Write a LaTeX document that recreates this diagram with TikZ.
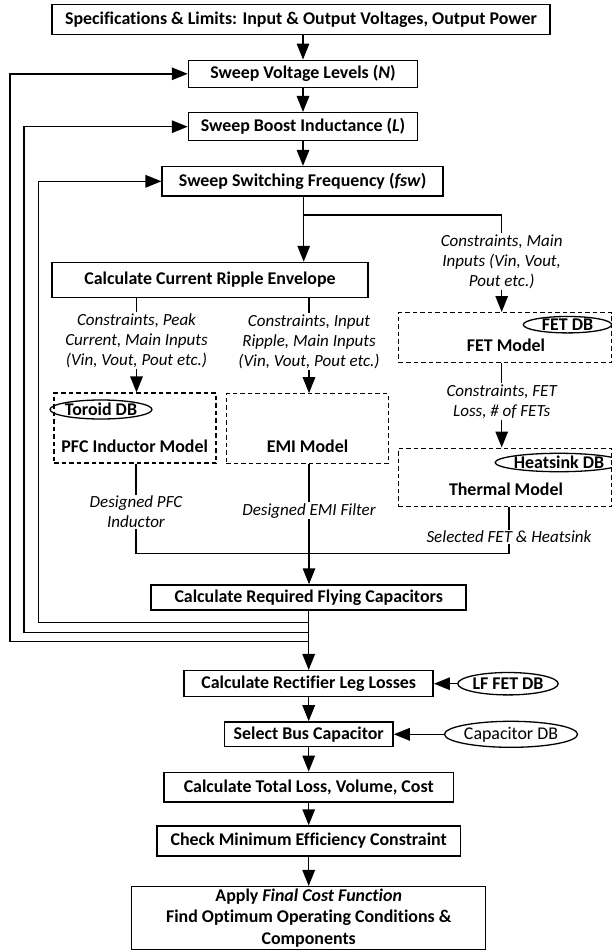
\documentclass[tikz,border=0pt]{standalone}
\usepackage{fontspec}
\setmainfont{Carlito}[Ligatures=NoCommon]
\usetikzlibrary{arrows.meta, shapes.geometric, positioning}
\tikzset{
  wh/.style 2 args={minimum width=#1pt, minimum height=#2pt},
  box/.style={draw, line width=1.5pt, inner sep=0pt, align=center,
    font=\fontsize{17.9}{21.3}\selectfont\bfseries},
  mbox/.style={draw, line width=1.2pt, dash pattern=on 4.5pt off 3pt, inner sep=0pt},
  db/.style={draw, ellipse, line width=1.3pt, inner sep=0pt,
    font=\fontsize{17.9}{21}\selectfont\bfseries},
  mname/.style={inner sep=0pt, font=\fontsize{17.9}{21}\selectfont\bfseries},
  lbl/.style={inner sep=1pt, align=center, font=\fontsize{17}{20}\selectfont\itshape},
  ln/.style={line width=1.5pt},
  arr/.style={line width=1.5pt, -{Triangle[length=16pt,width=12.5pt]}}}

\begin{document}
\begin{tikzpicture}[x=1pt, y=-1pt]
\useasboundingbox (0,0) rectangle (612,952);
% sweep loops
\node[box, wh={498}{30}] (spec) at (301,19.7) {Specifications \& Limits: Input \& Output Voltages, Output Power};
\node[box, wh={229}{27}] (volt) at (303,73.8) {Sweep Voltage Levels (\textit{N})};
\node[box, wh={229}{28}] (ind) at (303,126.7) {Sweep Boost Inductance (\textit{L})};
\node[box, wh={281}{29.3}] (fsw) at (302.7,181.3) {Sweep Switching Frequency (\textit{fsw})};
\node[box, wh={316}{35}] (ripple) at (210,280) {Calculate Current Ripple Envelope};

% component models
\node[mbox, wh={162}{70}] (pfc) at (135,428) {};
\node[mbox, wh={162}{69.5}] (emi) at (307.3,428.5) {};
\node[mbox, wh={213}{50}] (fet) at (505,337.6) {};
\node[mbox, wh={213}{58.6}] (therm) at (505,477.4) {};
\node[db, wh={88.6}{19}] (toroid) at (101,409.5) {Toroid DB};
\node[db, wh={88.4}{16}] (fetdb) at (567.5,324.7) {FET DB};
\node[db, wh={105}{18.4}] (heatdb) at (559,462.5) {Heatsink DB};
\node[mname] (pfcname) at (134.7,446) {PFC Inductor Model};
\node[mname] (eminame) at (307.5,446) {EMI Model};
\node[mname] (fetname) at (506,345) {FET Model};
\node[mname] (thermname) at (506,489) {Thermal Model};

% labels
\node[lbl] (lblA) at (501.7,261.5) {Constraints, Main\\Inputs (Vin, Vout,\\Pout etc.)};
\node[lbl] (lblpeak) at (136.5,340.5) {Constraints, Peak\\Current, Main Inputs\\(Vin, Vout, Pout etc.)};
\node[lbl] (lblinput) at (309,341.5) {Constraints, Input\\Ripple, Main Inputs\\(Vin, Vout, Pout etc.)};
\node[lbl] (lblloss) at (501.7,401.5) {Constraints, FET\\Loss, \# of FETs};
\node[lbl] (lblpfc) at (136,511.7) {Designed PFC\\Inductor};
\node[lbl] (lblemi) at (309,510.7) {Designed EMI Filter};
\node[lbl] (lblsel) at (509,536.7) {Selected FET \& Heatsink};

% final stages
\node[box, wh={315}{25}] (flying) at (308.7,597.5) {Calculate Required Flying Capacitors};
\node[box, wh={249}{26}] (rect) at (308.7,683.7) {Calculate Rectifier Leg Losses};
\node[db, wh={88.6}{22.4}] (lffet) at (508,683.7) {LF FET DB};
\node[box, wh={168.6}{24.7}] (bus) at (308.7,734.3) {Select Bus Capacitor};
\node[db, wh={116}{26}, font=\fontsize{17.9}{21}\selectfont] (capdb) at (511,734.3) {Capacitor DB};
\node[box, wh={289.5}{29.7}] (total) at (308.7,787.2) {Calculate Total Loss, Volume, Cost};
\node[box, wh={303.8}{30}] (check) at (308.7,841) {Check Minimum Efficiency Constraint};
\node[box, wh={354}{62.6}] (final) at (308.7,918) {Apply \textit{Final Cost Function}\\Find Optimum Operating Conditions \&\\Components};

\coordinate (split) at (303.7,215);
\coordinate (merge) at (309,553.3);
\coordinate (fbA) at (10,641.7);
\coordinate (fbB) at (24.2,632.3);
\coordinate (fbC) at (38.6,622.7);

% connectors
\draw[arr] (spec.south -| volt) -- (volt.north);
\draw[arr] (volt.south) -- (ind.north);
\draw[arr] (ind.south) -- (ind.south |- fsw.north);
\draw[ln] (fsw.south -| split) -- (split) -| (lblA.north);
\draw[arr] (split) -- (ripple.north -| split);
\draw[arr] (lblA.south) -- (fet.north -| lblA);
\draw[ln] (ripple.south -| lblpeak) -- (lblpeak.north);
\draw[arr] (lblpeak.south) -- (pfc.north -| lblpeak);
\draw[ln] (ripple.south -| lblinput) -- (lblinput.north);
\draw[arr] (lblinput.south) -- (emi.north -| lblinput);
\draw[ln] (fet.south -| lblloss) -- (lblloss.north);
\draw[arr] (lblloss.south) -- (therm.north -| lblloss);
\draw[ln] (pfc.south -| lblpfc) -- (lblpfc.north);
\draw[ln] (lblpfc.south) |- (merge -| lblsel) -- (lblsel.south);
\draw[ln] (therm.south -| lblsel) -- (lblsel.north);
\draw[ln] (emi.south -| lblemi) -- (lblemi.north);
\draw[arr] (lblemi.south) -- (flying.north -| lblemi);
\draw[arr] (flying.south) -- (rect.north);
\draw[arr] (flying.south |- fbA) -- (fbA) |- (volt.west);
\draw[arr] (flying.south |- fbB) -- (fbB) |- (ind.west);
\draw[arr] (flying.south |- fbC) -- (fbC) |- (fsw.west);
\draw[arr] (lffet.west) -- (rect.east);
\draw[arr] (rect.south) -- (bus.north);
\draw[arr] (capdb.west) -- (bus.east);
\draw[arr] (bus.south) -- (total.north);
\draw[arr] (total.south) -- (check.north);
\draw[arr] (check.south) -- (final.north);
\end{tikzpicture}
\end{document}
